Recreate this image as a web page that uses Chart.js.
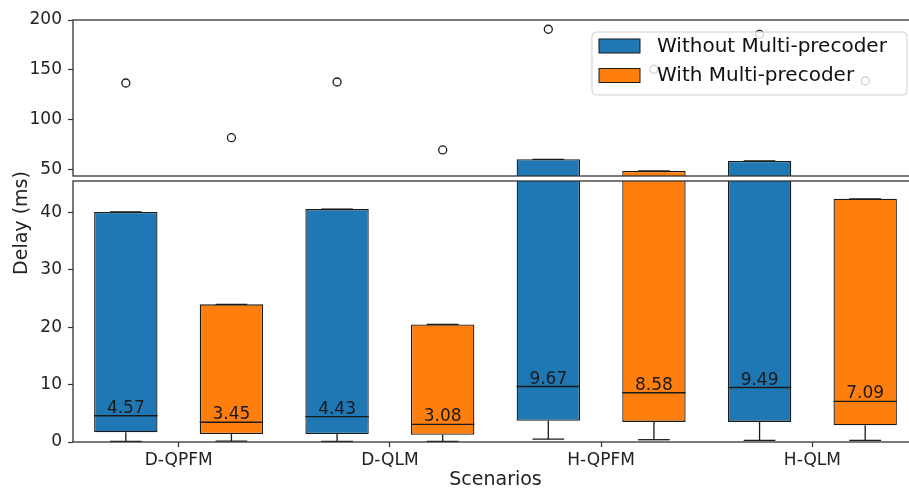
<!DOCTYPE html>
<html>
<head>
<meta charset="utf-8">
<script src="https://cdn.jsdelivr.net/npm/chart.js@4.4.1/dist/chart.umd.min.js"></script>
<style>
  html, body { margin:0; padding:0; background:#fff; width:909px; height:491px; overflow:hidden; }
  #wrap { position:relative; width:909px; height:491px; overflow:hidden; }
  canvas { position:absolute; left:0; }
  #cTop { top:0; }
  #cBot { top:176px; }
  #ylab { position:absolute; left:-80px; top:211px; width:200px; height:24px; line-height:24px;
          text-align:center; font-family:'DejaVu Sans'; font-size:19px; color:#222;
          transform:rotate(-90deg); transform-origin:center center; white-space:nowrap; }
</style>
</head>
<body>
<div id="wrap">
  <canvas id="cTop" width="930" height="180" style="width:930px;height:180px"></canvas>
  <canvas id="cBot" width="930" height="315" style="width:930px;height:315px"></canvas>
  <div id="ylab">Delay (ms)</div>
</div>
<script>
// ---------- data ----------
const categories = ['D-QPFM', 'D-QLM', 'H-QPFM', 'H-QLM'];
const seriesLabels = ['Without Multi-precoder', 'With Multi-precoder'];

const withoutQ1          = [1.7, 1.4, 3.7, 3.5];
const withoutMedian      = [4.57, 4.43, 9.67, 9.49];
const withoutQ3          = [40.1, 40.6, 60.0, 58.3];
const withoutWhiskerLow  = [0.1, 0.1, 0.5, 0.3];
const withoutWhiskerHigh = [40.1, 40.6, 60.0, 58.3];
const withoutOutliers    = [136.7, 137.7, 190.7, 185.6];

const withQ1          = [1.4, 1.25, 3.5, 2.9];
const withMedian      = [3.45, 3.08, 8.58, 7.09];
const withQ3          = [24.0, 20.5, 48.3, 42.4];
const withWhiskerLow  = [0.15, 0.1, 0.4, 0.3];
const withWhiskerHigh = [24.0, 20.5, 48.3, 42.4];
const withOutliers    = [81.7, 69.4, 150.5, 138.7];

const topTicks = [50, 100, 150, 200];
const bottomTicks = [0, 10, 20, 30, 40];
const topRange = [43.2, 200];
const bottomRange = [0, 45.5];

// ---------- styling ----------
Chart.defaults.font.family = 'DejaVu Sans';
const INK = '#1a1a1a';
const SPINE = '#333333';

function makeDatasets() {
  return [
    { label: seriesLabels[0], data: categories.map((c, i) => [withoutQ1[i], withoutQ3[i]]),
      median: withoutMedian, whiskerLow: withoutWhiskerLow, whiskerHigh: withoutWhiskerHigh, outliers: withoutOutliers,
      backgroundColor: '#1f77b4', borderColor: INK, borderWidth: 1.3, borderSkipped: false, clip: 0 },
    { label: seriesLabels[1], data: categories.map((c, i) => [withQ1[i], withQ3[i]]),
      median: withMedian, whiskerLow: withWhiskerLow, whiskerHigh: withWhiskerHigh, outliers: withOutliers,
      backgroundColor: '#ff7f0e', borderColor: INK, borderWidth: 1.3, borderSkipped: false, clip: 0 }
  ];
}

const boxParts = {
  id: 'boxParts',
  afterDatasetsDraw(chart) {
    const { ctx, chartArea: a } = chart;
    const y = chart.scales.y;
    ctx.save();
    ctx.beginPath();
    ctx.rect(a.left, a.top, a.right - a.left, a.bottom - a.top);
    ctx.clip();
    const line = (x1, y1, x2, y2) => { ctx.beginPath(); ctx.moveTo(x1, y1); ctx.lineTo(x2, y2); ctx.stroke(); };
    chart.data.datasets.forEach((ds, di) => {
      const meta = chart.getDatasetMeta(di);
      meta.data.forEach((bar, i) => {
        const x = bar.x, half = bar.width / 2, cap = bar.width / 4;
        const q1 = y.getPixelForValue(ds.data[i][0]);
        const q3 = y.getPixelForValue(ds.data[i][1]);
        const lo = y.getPixelForValue(ds.whiskerLow[i]);
        const hi = y.getPixelForValue(ds.whiskerHigh[i]);
        const med = y.getPixelForValue(ds.median[i]);
        ctx.strokeStyle = INK;
        ctx.lineWidth = 1.3;
        line(x, q1, x, lo); line(x - cap, lo, x + cap, lo);
        line(x, q3, x, hi); line(x - cap, hi, x + cap, hi);
        ctx.lineWidth = 1.4;
        line(x - half, med, x + half, med);
        // outlier
        const oy = y.getPixelForValue(ds.outliers[i]);
        ctx.lineWidth = 1.3;
        ctx.beginPath(); ctx.arc(x, oy, 4, 0, Math.PI * 2); ctx.stroke();
        // median label
        ctx.fillStyle = INK;
        ctx.font = '17px "DejaVu Sans"';
        ctx.textAlign = 'center';
        ctx.textBaseline = 'alphabetic';
        ctx.fillText(ds.median[i].toFixed(2), x, med - 3);
      });
    });
    ctx.restore();
    // frame (spines)
    ctx.save();
    ctx.strokeStyle = SPINE;
    ctx.lineWidth = 1.3;
    ctx.strokeRect(a.left, a.top, a.right - a.left, a.bottom - a.top);
    ctx.restore();
  }
};

const boxLegend = {
  id: 'boxLegend',
  afterDraw(chart) {
    const ctx = chart.ctx;
    ctx.save();
    const bx = 592, by = 32, bw = 315, bh = 63, r = 4;
    ctx.beginPath();
    ctx.roundRect(bx, by, bw, bh, r);
    ctx.fillStyle = 'rgba(255,255,255,0.8)';
    ctx.fill();
    ctx.strokeStyle = '#d0d0d0';
    ctx.lineWidth = 1;
    ctx.stroke();
    chart.data.datasets.forEach((ds, j) => {
      const py = 39 + j * 29.5;
      ctx.fillStyle = ds.backgroundColor;
      ctx.fillRect(599, py, 41, 14);
      ctx.strokeStyle = INK;
      ctx.lineWidth = 1;
      ctx.strokeRect(599, py, 41, 14);
      ctx.fillStyle = '#111';
      ctx.font = '20px "DejaVu Sans"';
      ctx.textAlign = 'left';
      ctx.textBaseline = 'middle';
      ctx.fillText(ds.label, 657, py + 7.5);
    });
    ctx.restore();
  }
};

function yScale(range, ticks) {
  return {
    min: range[0], max: range[1],
    afterBuildTicks: s => { s.ticks = ticks.map(v => ({ value: v })); },
    afterFit: s => { s.width = 73; s.paddingTop = 0; s.paddingBottom = 0; },
    grid: { drawOnChartArea: false, drawTicks: true, tickLength: 5, tickColor: SPINE, tickWidth: 1.2 },
    border: { display: false },
    ticks: { font: { size: 17 }, color: '#222', padding: 6 }
  };
}

new Chart(document.getElementById('cTop'), {
  type: 'bar',
  data: { labels: categories, datasets: makeDatasets() },
  options: {
    responsive: false, animation: false, devicePixelRatio: 1,
    layout: { padding: { top: 20, bottom: 4, left: 0, right: 12 } },
    datasets: { bar: { categoryPercentage: 1.0, barPercentage: 0.6 } },
    plugins: { legend: { display: false }, tooltip: { enabled: false } },
    scales: {
      x: { display: false, offset: true },
      y: yScale(topRange, topTicks)
    }
  },
  plugins: [boxParts, boxLegend]
});

new Chart(document.getElementById('cBot'), {
  type: 'bar',
  data: { labels: categories, datasets: makeDatasets() },
  options: {
    responsive: false, animation: false, devicePixelRatio: 1,
    layout: { padding: { top: 5, bottom: 0, left: 0, right: 12 } },
    datasets: { bar: { categoryPercentage: 1.0, barPercentage: 0.6 } },
    plugins: { legend: { display: false }, tooltip: { enabled: false } },
    scales: {
      x: {
        offset: true,
        afterFit: s => { s.height = 49; s.paddingLeft = 0; s.paddingRight = 0; },
        grid: { offset: false, drawOnChartArea: false, drawTicks: true, tickLength: 5, tickColor: SPINE, tickWidth: 1.2 },
        border: { display: false },
        ticks: { font: { size: 17 }, color: '#222', padding: 3, maxRotation: 0 },
        title: { display: true, text: 'Scenarios', font: { size: 19 }, color: '#222', padding: { top: 0, bottom: 0 } }
      },
      y: yScale(bottomRange, bottomTicks)
    }
  },
  plugins: [boxParts]
});
</script>
</body>
</html>
